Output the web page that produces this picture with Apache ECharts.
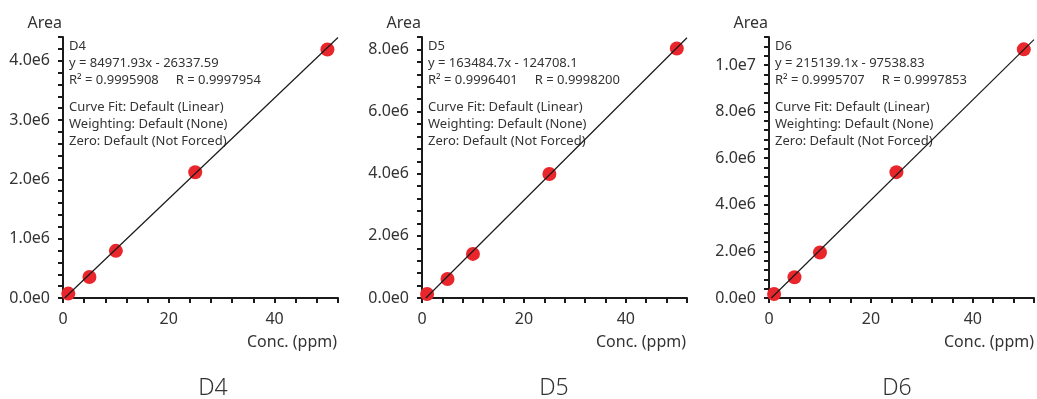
<!DOCTYPE html>
<html>
<head>
<meta charset="utf-8">
<script src="https://cdn.jsdelivr.net/npm/echarts@6/dist/echarts.min.js"></script>
<style>
  html, body { margin: 0; padding: 0; background: #fff; }
  #chart { width: 1037px; height: 399px; }
</style>
</head>
<body>
<div id="chart"></div>
<script>
// calibration data
const conc = [1, 5, 10, 25, 50]
const areaD4 = [74000, 355000, 795000, 2120000, 4190000]
const areaD5 = [130000, 610000, 1420000, 3990000, 8030000]
const areaD6 = [170000, 890000, 1950000, 5400000, 10670000]

const compounds = ['D4', 'D5', 'D6']
const slopes = [84971.93, 163484.7, 215139.1]
const intercepts = [-26337.59, -124708.1, -97538.83]
const slopeText = ['84971.93', '163484.7', '215139.1']
const interceptText = ['26337.59', '124708.1', '97538.83']
const rSquared = ['0.9995908', '0.9996401', '0.9995707']
const rValues = ['0.9997954', '0.9998200', '0.9997853']

const yMax = [4.4e6, 8.4e6, 11.2e6]
const yStep = [2e5, 4e5, 4e5]
const yLabelStep = [1e6, 2e6, 2e6]
const xMax = 52
const xStep = 4
const xLabelStep = 20

const areas = [areaD4, areaD5, areaD6]

// layout
const panels = [
  { left: 63, width: 275 },
  { left: 422, width: 265 },
  { left: 769, width: 266 }
]
const gridTop = 37
const gridHeight = 261
const titleCenters = [213, 554, 897]

const font = '"Noto Sans", "DejaVu Sans", sans-serif'
const axisColor = '#1a1a1a'
const textColor = '#333333'

function expLabel(v) {
  return v.toExponential(1).replace('+', '')
}

const grid = []
const xAxis = []
const yAxis = []
const series = []
const graphic = []

panels.forEach((p, i) => {
  grid.push({ left: p.left, top: gridTop, width: p.width, height: gridHeight })

  xAxis.push({
    type: 'value',
    gridIndex: i,
    min: 0,
    max: xMax,
    interval: xStep,
    axisLine: { lineStyle: { color: axisColor, width: 2 } },
    axisTick: { length: 5, lineStyle: { color: axisColor, width: 2 } },
    axisLabel: {
      margin: 13,
      color: textColor,
      fontSize: 16,
      fontFamily: font,
      formatter: v => (Math.round(v) % xLabelStep === 0 ? String(v) : '')
    },
    splitLine: { show: false }
  })

  yAxis.push({
    type: 'value',
    gridIndex: i,
    min: 0,
    max: yMax[i],
    interval: yStep[i],
    name: 'Area',
    nameLocation: 'end',
    nameGap: 6,
    nameTextStyle: { align: 'right', color: textColor, fontSize: 16, fontFamily: font, padding: [0, 1, 0, 0] },
    axisLine: { show: true, lineStyle: { color: axisColor, width: 2 } },
    axisTick: { show: true, length: 5, lineStyle: { color: axisColor, width: 2 } },
    axisLabel: {
      margin: 13,
      color: textColor,
      fontSize: 16,
      fontFamily: font,
      formatter: v => (Math.round(v) % yLabelStep[i] === 0 ? expLabel(v) : '')
    },
    splitLine: { show: false }
  })

  series.push({
    type: 'scatter',
    xAxisIndex: i,
    yAxisIndex: i,
    symbolSize: 14,
    itemStyle: { color: '#e8262c', opacity: 1 },
    data: conc.map((x, j) => [x, areas[i][j]]),
    z: 2
  })

  // regression line from the printed fit
  const x0 = -intercepts[i] / slopes[i]
  series.push({
    type: 'line',
    xAxisIndex: i,
    yAxisIndex: i,
    symbol: 'none',
    silent: true,
    lineStyle: { color: axisColor, width: 1.2 },
    data: [[x0, 0], [xMax, slopes[i] * xMax + intercepts[i]]],
    z: 3
  })

  const tx = p.left + 6
  graphic.push({
    type: 'text',
    left: tx,
    top: 38,
    style: {
      text: compounds[i] + '\ny = ' + slopeText[i] + 'x - ' + interceptText[i] +
        '\nR\u00b2 = ' + rSquared[i] + '     R = ' + rValues[i],
      fill: textColor,
      font: '13px ' + font,
      lineHeight: 17
    }
  })
  graphic.push({
    type: 'text',
    left: tx,
    top: 99,
    style: {
      text: 'Curve Fit: Default (Linear)\nWeighting: Default (None)\nZero: Default (Not Forced)',
      fill: textColor,
      font: '13px ' + font,
      lineHeight: 17
    }
  })
  graphic.push({
    type: 'text',
    x: p.left + p.width - 1,
    y: 342,
    style: {
      text: 'Conc. (ppm)',
      fill: textColor,
      font: '16px ' + font,
      align: 'right',
      verticalAlign: 'middle'
    }
  })
  graphic.push({
    type: 'text',
    x: titleCenters[i],
    y: 388,
    style: {
      text: compounds[i],
      fill: textColor,
      font: '300 23px ' + font,
      align: 'center',
      verticalAlign: 'middle'
    }
  })
})

const chart = echarts.init(document.getElementById('chart'))
chart.setOption({
  animation: false,
  backgroundColor: '#ffffff',
  grid,
  xAxis,
  yAxis,
  series,
  graphic
})
</script>
</body>
</html>
